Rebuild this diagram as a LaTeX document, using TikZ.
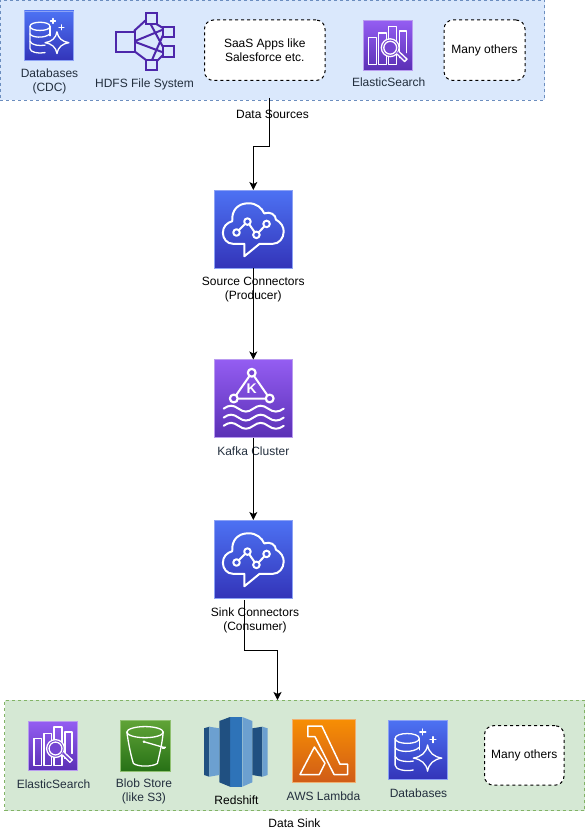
\documentclass[tikz,border=0pt]{standalone}
\usepackage{fontspec}
\setmainfont{Liberation Sans}
\usetikzlibrary{arrows.meta}
\definecolor{awsink}{HTML}{232F3E}
\definecolor{blueT}{HTML}{4D72F3}\definecolor{blueB}{HTML}{3334B9}\definecolor{blueE}{HTML}{8CA2F5}
\definecolor{purT}{HTML}{945DF2}\definecolor{purB}{HTML}{5A30B5}\definecolor{purE}{HTML}{B99BF0}\definecolor{purM}{HTML}{7545D2}
\definecolor{grnT}{HTML}{60A337}\definecolor{grnB}{HTML}{277116}\definecolor{grnE}{HTML}{8FC070}
\definecolor{orgT}{HTML}{F78E04}\definecolor{orgB}{HTML}{D05C17}\definecolor{orgE}{HTML}{F0B070}
\definecolor{hdfs}{HTML}{4D27AA}
\definecolor{srcFill}{HTML}{DAE8FC}\definecolor{srcEdge}{HTML}{6C8EBF}
\definecolor{snkFill}{HTML}{D5E8D4}\definecolor{snkEdge}{HTML}{82B366}
\definecolor{rsDark}{HTML}{205081}\definecolor{rsMid}{HTML}{2E73B8}\definecolor{rsLight}{HTML}{6CA0D0}
\tikzset{
  basefont/.style={font=\fontsize{12}{14}\selectfont,align=center,inner sep=0pt},
  awslabel/.style={basefont,text=awsink},
  plainlabel/.style={basefont,text=black},
  groupbox/.style={dash pattern=on 3pt off 3pt,line width=0.8pt,inner sep=0pt,outer sep=0pt,anchor=north west},
  notebox/.style={draw=black,fill=white,dash pattern=on 3pt off 3pt,line width=1pt,rounded corners=9pt,inner sep=0pt,outer sep=0pt,anchor=north west,font=\fontsize{12}{14}\selectfont,align=center,text=black},
  iconbox/.style={draw,inner sep=0pt,outer sep=0pt,anchor=north west,line width=0.8pt},
  glyph/.style={draw=white,line width=1.3pt,line join=round,line cap=round},
  glyphwide/.style={draw=white,line width=2pt,line join=round,line cap=round},
  flow/.style={draw=black,line width=1pt,-{Stealth[length=8pt,width=8pt,inset=2pt]}},
  hdfsline/.style={draw=hdfs,line width=2pt},
  hdfsbox/.style={draw=hdfs,line width=2.2pt,fill=srcFill,inner sep=0pt,anchor=north west},
}
\newcommand{\glyphCloud}{%
  \draw[glyphwide] (38.5,85) -- (38.5,69) -- (24,69) .. controls (16,69) and (11,62) .. (11,55)
    .. controls (11,47) and (16,42) .. (23,40) .. controls (22,26) and (30,17) .. (44,17)
    .. controls (54,17) and (61,23) .. (64,30) .. controls (72,27) and (79,32) .. (79,38)
    .. controls (85,41) and (89,47) .. (89,53) .. controls (89,62) and (83,69) .. (75,69)
    -- (58,69) -- cycle;
  \draw[glyphwide] (28.5,54.5) -- (42.5,40.5) -- (54,57.5) -- (67,43.5);
  \foreach \p in {(28.5,54.5),(42.5,40.5),(54,57.5),(67,43.5)}
    \filldraw[glyphwide,fill=blueT!55!blueB] \p circle (4.2);
}
\newcommand{\glyphKafka}{%
  \draw[glyphwide] (48,17) -- (25,50) -- (71,50) -- cycle;
  \foreach \p in {(48,17),(25,50),(71,50)}
    \filldraw[glyphwide,line width=2.2pt,fill=purM] \p circle (5);
  \node[text=white,font=\bfseries\fontsize{14}{14}\selectfont,inner sep=0pt] (kk) at (48,38) {K};
  \foreach \w in {63,74.5,85}
    \draw[glyphwide] (12,\w) .. controls (19,\w-5) and (24,\w-5) .. (31,\w)
      .. controls (38,\w+5) and (43,\w+5) .. (50,\w)
      .. controls (57,\w-5) and (62,\w-5) .. (69,\w)
      .. controls (76,\w+5) and (82,\w+5) .. (89,\w);
}
\newcommand{\glyphDb}{%
  \draw[glyph] (11.5,31) .. controls (11.5,20) and (52,20) .. (52,31) .. controls (52,42) and (11.5,42) .. (11.5,31);
  \draw[glyph] (11.5,31) -- (11.5,76) .. controls (11.5,83) and (28,87) .. (42,84);
  \draw[glyph] (52,31) -- (52,50);
  \draw[glyph] (11.5,46) .. controls (14,54) and (42,56) .. (52,46);
  \draw[glyph] (11.5,61) .. controls (14,69) and (30,71) .. (42,69);
  \draw[glyph] (66,42) .. controls (68,55) and (77,62) .. (90,64) .. controls (77,66) and (68,73) .. (66,86)
    .. controls (64,73) and (55,66) .. (42,64) .. controls (55,62) and (64,55) .. (66,42) -- cycle;
  \draw[glyph] (53,20) -- (63,20) (58,15) -- (58,25) (70,33) -- (80,33) (75,28) -- (75,38);
}
\newcommand{\glyphSearch}{%
  \draw[glyph] (11.5,89) rectangle (27,35);
  \draw[glyph] (32,89) rectangle (47,25);
  \draw[glyph] (52,89) rectangle (68,11.5);
  \draw[glyph] (74,75) -- (74,21.5) -- (88,21.5) -- (88,65);
  \filldraw[glyph,fill=purM] (55,55) circle (18);
  \draw[glyph] (55,55) circle (13);
  \path[fill=purM] (68,66) -- (72,62) -- (90,78) -- (86,84) -- cycle;
  \draw[glyph] (69,68) -- (84,83) -- (89,78) -- (73,63);
}
\newcommand{\glyphBucket}{%
  \draw[glyph] (49,23) ellipse (36 and 11);
  \draw[glyph] (13,23) .. controls (16,45) and (21,70) .. (26,85) .. controls (35,92) and (63,92) .. (73.5,85) .. controls (78,65) and (83,45) .. (85,23);
  \draw[glyph] (47,42) -- (85,53);
  \draw[glyph] (85,53) .. controls (90,51) and (91,54) .. (87,55) .. controls (83,56) and (82,54) .. (85,53);
  \filldraw[white] (47,42) circle (2.2);
}
\newcommand{\glyphLambda}{%
  \draw[glyphwide,line width=1.5pt] (24.5,10.5) -- (47,10.5) -- (76,71.5) -- (88,71.5) -- (88,88) -- (66.5,88) -- (36,27.5) -- (24.5,27.5) -- cycle;
  \draw[glyphwide,line width=1.5pt] (35,44) -- (12,88) -- (43,88) -- (52,70) -- cycle;
}
% \iconnode{name}{x}{y}{size}{top}{bottom}{edge}{glyph}
\newcommand{\iconnode}[8]{%
  \node[iconbox,draw=#7,top color=#5,bottom color=#6,minimum width=#4pt,minimum height=#4pt] (#1) at (#2,#3) {};
  \begin{scope}[shift={(#2,#3)},x=#4pt/100,y=-#4pt/100]
    #8
  \end{scope}
}
\begin{document}
\begin{tikzpicture}[x=1pt,y=-1pt]
\useasboundingbox (0,0) rectangle (585,832);
% containers
\node[groupbox,draw=srcEdge,fill=srcFill,minimum width=544.5pt,minimum height=100pt] (sources) at (0,0) {};
\node[groupbox,draw=snkEdge,fill=snkFill,minimum width=580pt,minimum height=110.5pt] (sinks) at (4.5,700) {};
% top row
\iconnode{dbA}{24.3}{11}{49.5}{blueT}{blueB}{blueE}{\glyphDb}
\node[awslabel] (dbAl) at (49.5,81.5) {Databases\\(CDC)};
% HDFS glyph
\draw[hdfsline] (134,31) -- (146,20) (134,41.5) -- (162,30) (134,41.5) -- (162,52) (134,51) -- (146,60)
  (153,22) -- (163,28) (163,35) -- (152,60) (150,23) -- (163,47) (155,63) -- (163,55);
\node[hdfsbox,minimum width=19pt,minimum height=20pt] (hBig) at (115,31) {};
\node[hdfsbox,minimum width=11pt,minimum height=11pt] (hA) at (145,12) {};
\node[hdfsbox,minimum width=11pt,minimum height=10pt] (hB) at (162,26) {};
\node[hdfsbox,minimum width=11pt,minimum height=11pt] (hC) at (162,45) {};
\node[hdfsbox,minimum width=11pt,minimum height=10pt] (hD) at (145,59) {};
\node[awslabel] (hdfsl) at (144.5,84) {HDFS File System};
\node[notebox,minimum width=120.5pt,minimum height=60.5pt] (saas) at (204.5,20) {SaaS Apps like\\Salesforce etc.};
\iconnode{esA}{363}{20.5}{49.5}{purT}{purB}{purE}{\glyphSearch}
\node[awslabel] (esAl) at (388.7,82.5) {ElasticSearch};
\node[notebox,minimum width=81pt,minimum height=60.5pt] (otherA) at (444,20) {Many others};
\node[plainlabel] (dsl) at (272.5,114) {Data Sources};
% middle
\iconnode{src}{214.3}{190}{78}{blueT}{blueB}{blueE}{\glyphCloud}
\node[plainlabel] (srcl) at (253.3,290) {Source Connectors\\(Producer)};
\iconnode{kafka}{214.3}{359.5}{78}{purT}{purB}{purE}{\glyphKafka}
\node[awslabel] (kafkal) at (253.3,451) {Kafka Cluster};
\iconnode{sink}{214.3}{520}{78}{blueT}{blueB}{blueE}{\glyphCloud}
\node[plainlabel] (sinkl) at (255,620) {Sink Connectors\\(Consumer)};
% bottom row
\iconnode{esB}{28.3}{721.3}{49.5}{purT}{purB}{purE}{\glyphSearch}
\node[awslabel] (esBl) at (53.5,784) {ElasticSearch};
\iconnode{blob}{120.3}{720.5}{50.5}{grnT}{grnB}{grnE}{\glyphBucket}
\node[awslabel] (blobl) at (144,791.5) {Blob Store\\(like S3)};
% Redshift
\fill[rsMid] (230,717) -- (242.3,717) -- (242.3,786.7) -- (230,786.7) -- cycle;
\fill[rsDark] (230,717) -- (219.3,721) -- (219.3,782.3) -- (230,786.7) -- cycle;
\fill[rsLight] (242.3,717) -- (252.3,721) -- (252.3,782.3) -- (242.3,786.7) -- cycle;
\fill[rsDark] (204,728.3) -- (209.3,726.7) -- (209.3,776.7) -- (204,775) -- cycle;
\fill[rsLight] (209.3,726.7) -- (219.3,728.3) -- (219.3,775) -- (209.3,776.7) -- cycle;
\fill[rsDark] (252.3,728.3) -- (262.3,726.7) -- (262.3,776.7) -- (252.3,775) -- cycle;
\fill[rsLight] (262.3,726.7) -- (267.7,728.3) -- (267.7,775) -- (262.3,776.7) -- cycle;
\node[plainlabel] (rsl) at (236.5,800) {Redshift};
\iconnode{lambda}{292.5}{719.5}{62.5}{orgT}{orgB}{orgE}{\glyphLambda}
\node[awslabel] (lambdal) at (323.5,796) {AWS Lambda};
\iconnode{dbB}{388.3}{720}{59.5}{blueT}{blueB}{blueE}{\glyphDb}
\node[awslabel] (dbBl) at (418.5,793) {Databases};
\node[notebox,minimum width=79.5pt,minimum height=59.5pt] (otherB) at (484.5,725.7) {Many others};
\node[plainlabel] (dsk) at (294.5,823) {Data Sink};
% connectors
\coordinate (srcStart) at (269,98);
\coordinate (sinkStart) at (244.5,600);
\draw[flow] (srcStart) -- (269,146) -- (253.3,146) -- (src.north);
\draw[flow] (src.south) -- (kafka.north);
\draw[flow] (kafka.south) -- (sink.north);
\draw[flow] (sinkStart) -- (244.5,650) -- (277.5,650) -- (sinks.north -| 277.5,700);
\end{tikzpicture}
\end{document}
